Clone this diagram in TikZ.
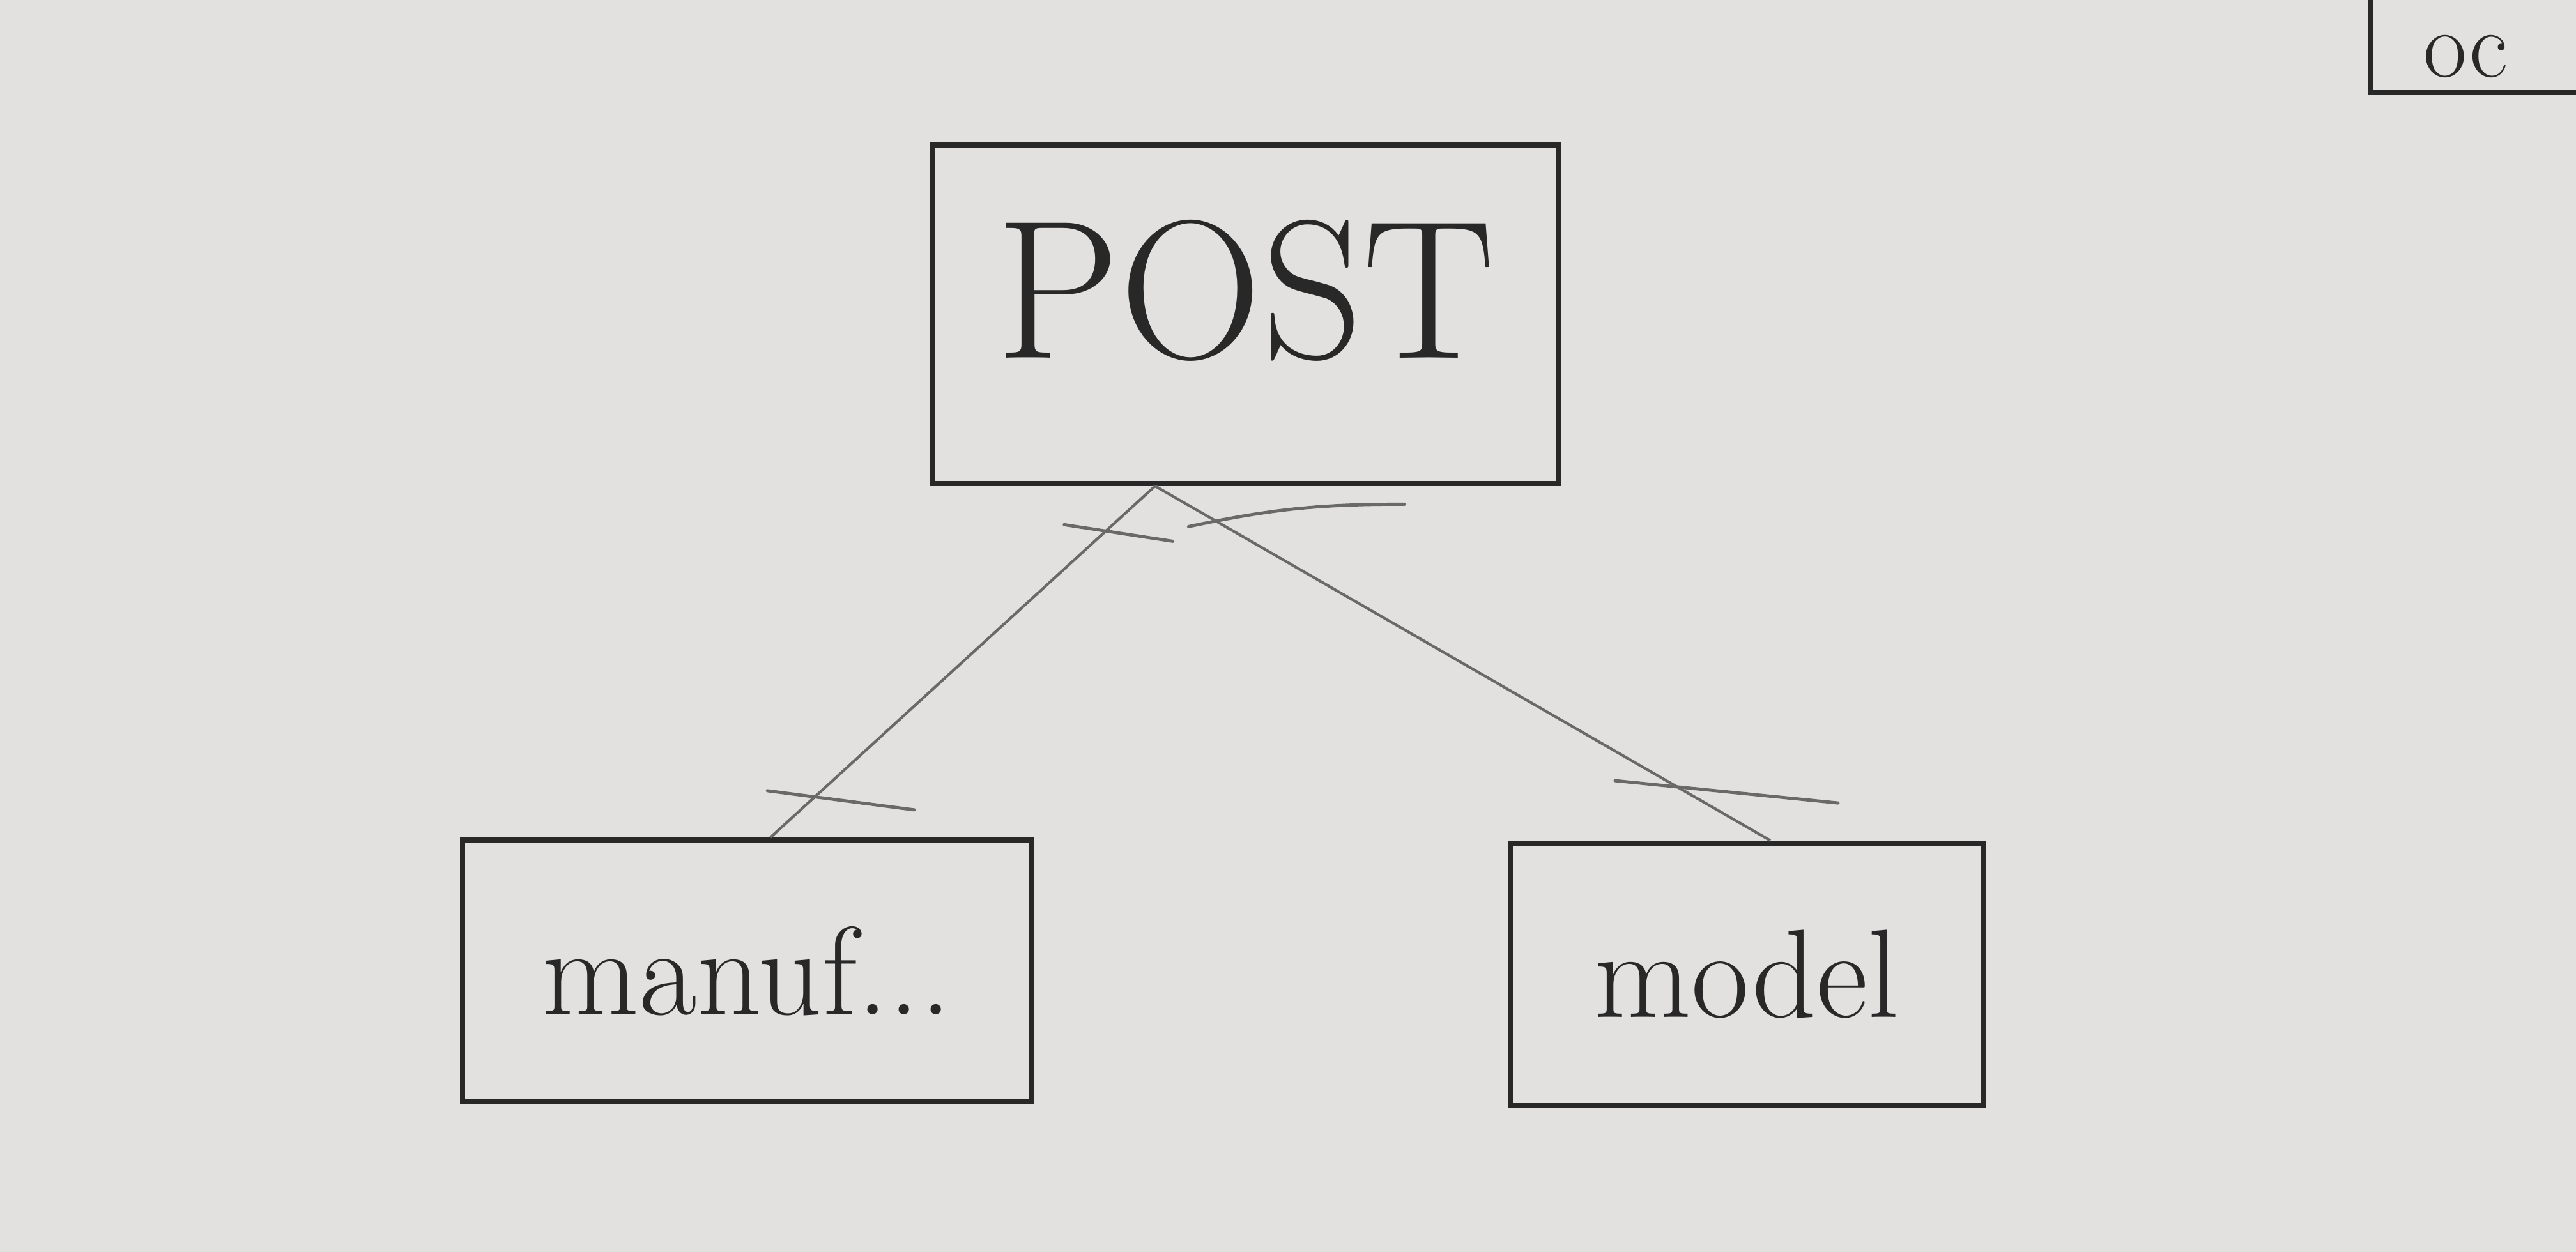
\documentclass[tikz,border=0pt]{standalone}
\usepackage{fontspec}
\usetikzlibrary{positioning}
\definecolor{board}{RGB}{226,225,224}
\definecolor{ink}{RGB}{40,40,40}
\definecolor{faint}{RGB}{105,105,105}
\tikzset{%
    entity/.style = {rectangle, draw=ink, line width=2.2pt, text=ink, align=center},
   boxline/.style = {draw=ink, line width=2.2pt},
     big/.style = {font=\fontsize{88}{90}\selectfont},
   small/.style = {font=\fontsize{56}{60}\selectfont},
      tiny/.style = {font=\fontsize{42}{44}\selectfont},
      link/.style = {draw=faint, line width=1.2pt},
    onebar/.style = {draw=faint, line width=1.4pt, line cap=round}
        }

\begin{document}
\begin{tikzpicture}
\useasboundingbox [fill=board] (0,0) rectangle (40.32,-19.6);
\node [entity, big, minimum width=9.8cm, minimum height=5.3cm, text depth=.8cm] (post) at (19.49,-4.92) {POST};
\node [entity, small, below=5.5cm of post, xshift=-7.8cm,
       minimum width=8.9cm, minimum height=4.1cm] (manuf) {manuf...};
\node [entity, small, below=5.55cm of post, xshift=7.85cm,
       minimum width=7.4cm, minimum height=4.1cm] (model) {model};
% box in the corner, only partly on the board
\node [tiny, text=ink, inner sep=0pt, anchor=base west] (other) at (37.93,-1.2) {oc};
\coordinate (otherbl) at ([xshift=-.83cm, yshift=-.25cm]other.base west);
\draw [boxline] (otherbl |- 0,0) -- (otherbl) -- (otherbl -| 40.32,0);
% connectors
\coordinate (fork) at ([xshift=-1.41cm]post.south);
\draw [link] (fork) -- ([xshift=.37cm]manuf.north)
    coordinate[pos=.13] (postL) coordinate[pos=.88] (manufL);
\draw [link] (fork) -- ([xshift=.37cm]model.north)
    coordinate[pos=.10] (postR) coordinate[pos=.84] (modelR);
% one bars
\draw [onebar] ([shift={(-.64,.11)}]postL) -- ([shift={(1.06,-.15)}]postL);
\draw [onebar] ([shift={(-.44,-.08)}]postR) to[bend left=6] ([shift={(2.94,.27)}]postR);
\draw [onebar] ([shift={(-.77,.07)}]manufL) -- ([shift={(1.53,-.23)}]manufL);
\draw [onebar] ([shift={(-.89,.05)}]modelR) -- ([shift={(2.6,-.30)}]modelR);
\end{tikzpicture}
\end{document}
